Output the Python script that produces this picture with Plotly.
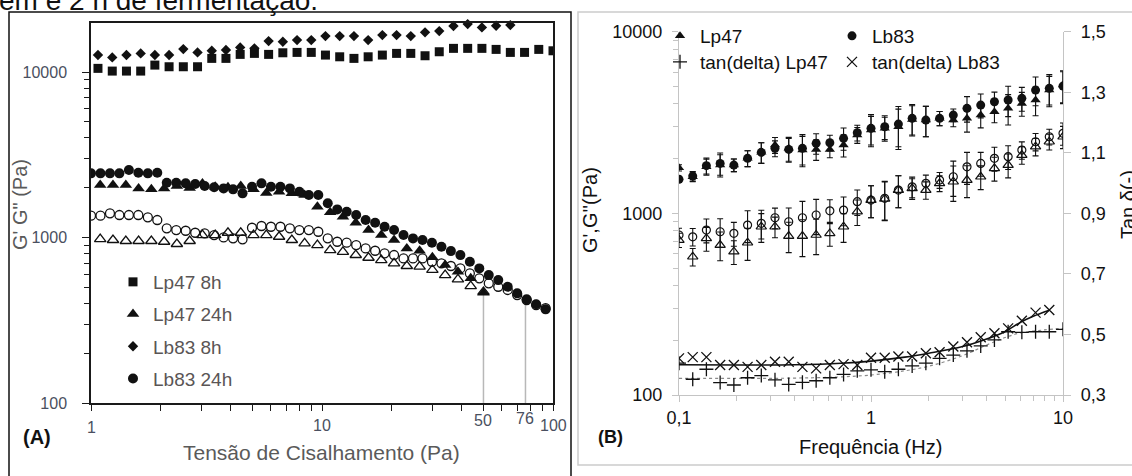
import math
import plotly.graph_objects as go

W, H = 1132, 476
FONT = "Liberation Sans, Arial, sans-serif"

# ---------------- Panel A data (shear stress sweep) ----------------
tau_8h = [1.072, 1.236, 1.424, 1.641, 1.890, 2.178, 2.510, 2.892, 3.333, 3.839,
          4.424, 5.098, 5.874, 6.768, 7.798, 8.986, 10.35, 11.93, 13.75, 15.84,
          18.25, 21.03, 24.23, 27.93, 32.18, 37.08, 42.72, 49.23, 56.72, 65.36,
          75.31, 86.78, 100.0]
lp47_8h = [10530, 10140, 10140, 10140, 11020, 10770, 10770, 10770, 12100, 12100,
           12790, 12970, 12790, 13080, 13150, 13150, 12670, 12370, 12100, 12370,
           12670, 12970, 12970, 12550, 13270, 13910, 13910, 13910, 13710, 13150,
           13150, 13710, 13450]
tau_lb83_8h = tau_8h[:30]
lb83_8h = [12670, 12270, 12670, 12970, 12670, 12670, 13770, 13150, 13450, 13590,
           14100, 13910, 15390, 15240, 15600, 15600, 16500, 16500, 16500, 15600,
           16730, 16730, 16500, 17380, 17690, 18970, 19500, 18620, 19050, 19230]

tau_lb83_24h = [1.000, 1.099, 1.208, 1.327, 1.459, 1.603, 1.762, 1.936, 2.128, 2.339,
                2.570, 2.825, 3.105, 3.412, 3.750, 4.121, 4.529, 4.977, 5.470, 6.012,
                6.607, 7.261, 7.980, 8.770, 9.638, 10.59, 11.64, 12.79, 14.06, 15.45,
                16.98, 18.66, 20.51, 22.54, 24.77, 27.23, 29.92, 32.89, 36.14, 39.72,
                43.65, 47.97, 52.72, 57.94, 63.68, 69.98, 76.91, 84.53, 92.90]
lb83_24h_g1 = [2443, 2443, 2443, 2443, 2557, 2465, 2443, 2465, 2143, 2143,
               2126, 2106, 2047, 2011, 1982, 1955, 1849, 2028, 2126, 2028,
               2028, 1982, 1893, 1806, 1806, 1611, 1479, 1432, 1367, 1275,
               1228, 1161, 1110, 1035, 988, 966, 931, 880, 828, 783,
               714, 651, 593, 553, 504, 460, 423, 395, 368]
lb83_24h_g2 = [1355, 1355, 1400, 1368, 1368, 1368, 1325, 1276, 1137, 1110,
               1099, 1069, 1060, 1035, 1002, 989, 975, 1146, 1174, 1162,
               1162, 1137, 1110, 1110, 1084, 989, 943, 931, 901, 860,
               832, 803, 784, 748, 748, 748, 714, 698, 673, 651,
               608, 567, 529, 504, 482, 449, 419, 391, 374]

tau_lp47_24h = [1.096, 1.245, 1.415, 1.607, 1.825, 2.073, 2.354, 2.674, 3.037, 3.449,
                3.917, 4.449, 5.053, 5.740, 6.519, 7.404, 8.410, 9.552, 10.85, 12.32,
                14.00, 15.90, 18.06, 20.51, 23.29, 26.46, 30.05, 34.13, 38.77, 44.03,
                50.00]
lp47_24h_g1 = [2075, 2075, 2075, 1980, 1960, 1980, 2047, 1990, 2120, 2030,
               2010, 2047, 1960, 1857, 1891, 1850, 1806, 1535, 1420, 1336,
               1228, 1110, 1035, 966, 860, 832, 759, 682, 621, 567, 464]
lp47_24h_g2 = [979, 966, 953, 953, 953, 943, 914, 953, 1035, 1035,
               1069, 1069, 1035, 1035, 1011, 966, 922, 901, 840, 820,
               784, 755, 731, 698, 673, 667, 637, 593, 559, 509, 469]

yield_tau = [50, 76]
yield_g = [464, 423]
yield_base = 100

tickA_vals = [1, 10, 50, 76, 100]
tickA_text = ["1", "10", "50", "76", "100"]

# ---------------- Panel B data (frequency sweep) ----------------
freq = [0.1, 0.1179, 0.1389, 0.1638, 0.1931, 0.2276, 0.2683, 0.3162, 0.3728, 0.4394,
        0.5179, 0.6105, 0.7197, 0.8483, 1.0, 1.179, 1.389, 1.638, 1.931, 2.276,
        2.683, 3.162, 3.728, 4.394, 5.179, 6.105, 7.197, 8.483, 10.0]
lp47_g1 = [1782, 1590, 1804, 1844, 1844, 2009, 2167, 2376, 2279, 2230,
           2250, 2250, 2376, 2697, 2872, 2938, 2998, 3289, 3261, 3334,
           3261, 3334, 3476, 3624, 3784, 4029, 4205, 4772, 5082]
lb83_g1 = [1539, 1604, 1830, 1884, 1844, 2009, 2167, 2279, 2250, 2279,
           2429, 2447, 2588, 2778, 2938, 2998, 3100, 3334, 3261, 3334,
           3476, 3784, 3945, 4115, 4205, 4295, 4772, 4878, 5020]
lp47_g2 = [713, 577, 728, 669, 615, 689, 844, 844, 750, 750,
           760, 776, 844, 1021, 1183, 1200, 1343, 1373, 1343, 1463,
           1493, 1525, 1590, 1770, 1844, 2094, 2327, 2479, 2641]
lb83_g2 = [760, 743, 809, 792, 776, 862, 881, 946, 899, 946,
           979, 1033, 1042, 1159, 1183, 1210, 1343, 1400, 1463, 1525,
           1590, 1804, 1884, 2009, 2050, 2230, 2479, 2641, 2756]
err_rel_g1 = [0.04, 0.06, 0.10, 0.14, 0.08, 0.10, 0.13, 0.10, 0.15, 0.19,
              0.13, 0.10, 0.14, 0.10, 0.19, 0.15, 0.25, 0.19, 0.19, 0.09,
              0.08, 0.16, 0.15, 0.13, 0.19, 0.15, 0.18, 0.19, 0.20]
err_rel_g2 = [0.09, 0.11, 0.15, 0.18, 0.15, 0.20, 0.18, 0.13, 0.19, 0.23,
              0.22, 0.15, 0.18, 0.16, 0.20, 0.24, 0.20, 0.13, 0.11, 0.10,
              0.22, 0.20, 0.15, 0.15, 0.15, 0.11, 0.11, 0.10, 0.14]
tan_lp47 = [0.405, 0.352, 0.385, 0.341, 0.333, 0.357, 0.364, 0.350, 0.335, 0.342,
            0.347, 0.357, 0.368, 0.380, 0.383, 0.377, 0.385, 0.396, 0.405, 0.421,
            0.432, 0.446, 0.462, 0.482, 0.509, 0.507, 0.509, 0.509, 0.517]
freq_lb83_tan = freq[:28]
tan_lb83 = [0.421, 0.425, 0.425, 0.399, 0.399, 0.393, 0.399, 0.410, 0.410, 0.393,
            0.388, 0.399, 0.402, 0.399, 0.423, 0.423, 0.427, 0.427, 0.438, 0.441,
            0.460, 0.474, 0.491, 0.504, 0.520, 0.545, 0.572, 0.581]
trend_f_lp47 = [0.1, 0.3, 0.5, 0.7, 1, 1.5, 2, 3, 4, 5, 6, 8, 10]
trend_lp47 = [0.355, 0.355, 0.357, 0.360, 0.366, 0.380, 0.395, 0.430, 0.465, 0.490, 0.505, 0.515, 0.520]
trend_f_lb83 = [0.1, 0.2, 0.4, 0.7, 1, 1.5, 2, 3, 4, 5, 6, 7, 8.483]
trend_lb83 = [0.400, 0.399, 0.400, 0.405, 0.412, 0.425, 0.438, 0.460, 0.485, 0.510, 0.540, 0.560, 0.580]

tickB_y2 = [100, 1000, 10000]
tickB_y3 = [0.3, 0.5, 0.7, 0.9, 1.1, 1.3, 1.5]


def px(x):
    return x / W


def py(y):
    return 1 - y / H


BLACK = "#111111"
fig = go.Figure()

# ---------- Panel A traces ----------
for xv, gv in zip(yield_tau, yield_g):
    fig.add_trace(go.Scatter(x=[xv, xv], y=[yield_base, gv], mode="lines",
                             line=dict(color="#b8b8b8", width=1.5),
                             showlegend=False, hoverinfo="skip", xaxis="x", yaxis="y",
                             cliponaxis=False))

fig.add_trace(go.Scatter(x=tau_lp47_24h, y=lp47_24h_g2, mode="markers", showlegend=False,
                         marker=dict(symbol="triangle-up-open", size=10, color=BLACK, line=dict(width=1.3)),
                         xaxis="x", yaxis="y"))
fig.add_trace(go.Scatter(x=tau_lb83_24h, y=lb83_24h_g2, mode="markers", showlegend=False,
                         marker=dict(symbol="circle-open", size=9, color=BLACK, line=dict(width=1.3)),
                         xaxis="x", yaxis="y"))
fig.add_trace(go.Scatter(x=tau_8h, y=lp47_8h, mode="markers", name="Lp47 8h",
                         legend="legend", legendgroup="a1", legendrank=1,
                         marker=dict(symbol="square", size=9, color=BLACK),
                         xaxis="x", yaxis="y"))
fig.add_trace(go.Scatter(x=tau_lp47_24h, y=lp47_24h_g1, mode="markers", name="Lp47 24h",
                         legend="legend", legendgroup="a2", legendrank=2,
                         marker=dict(symbol="triangle-up", size=11, color=BLACK),
                         xaxis="x", yaxis="y"))
fig.add_trace(go.Scatter(x=tau_lb83_8h, y=lb83_8h, mode="markers", name="Lb83 8h",
                         legend="legend", legendgroup="a3", legendrank=3,
                         marker=dict(symbol="diamond", size=8, color=BLACK),
                         xaxis="x", yaxis="y", cliponaxis=False))
fig.add_trace(go.Scatter(x=tau_lb83_24h, y=lb83_24h_g1, mode="markers", name="Lb83 24h",
                         legend="legend", legendgroup="a4", legendrank=4,
                         marker=dict(symbol="circle", size=10, color=BLACK),
                         xaxis="x", yaxis="y"))

# ---------- Panel B traces ----------
def errs(vals, rel):
    return [v * r for v, r in zip(vals, rel)]

EB = dict(type="data", color=BLACK, thickness=1.1, width=3, visible=True)

fig.add_trace(go.Scatter(x=freq, y=lp47_g2, mode="markers", showlegend=False,
                         error_y=dict(EB, array=errs(lp47_g2, err_rel_g2)),
                         marker=dict(symbol="triangle-up-open", size=9, color=BLACK, line=dict(width=1.2)),
                         xaxis="x2", yaxis="y2"))
fig.add_trace(go.Scatter(x=freq, y=lb83_g2, mode="markers", showlegend=False,
                         error_y=dict(EB, array=errs(lb83_g2, err_rel_g2)),
                         marker=dict(symbol="circle-open", size=8, color=BLACK, line=dict(width=1.2)),
                         xaxis="x2", yaxis="y2"))
fig.add_trace(go.Scatter(x=freq, y=lp47_g1, mode="markers", name="Lp47",
                         legend="legend2", legendrank=1,
                         error_y=dict(EB, array=errs(lp47_g1, err_rel_g1)),
                         marker=dict(symbol="triangle-up", size=9, color=BLACK),
                         xaxis="x2", yaxis="y2"))
fig.add_trace(go.Scatter(x=freq, y=lb83_g1, mode="markers", name="Lb83",
                         legend="legend2", legendrank=2,
                         error_y=dict(EB, array=errs(lb83_g1, err_rel_g1)),
                         marker=dict(symbol="circle", size=9, color=BLACK),
                         xaxis="x2", yaxis="y2"))

fig.add_trace(go.Scatter(x=trend_f_lp47, y=trend_lp47, mode="lines", showlegend=False,
                         line=dict(color="#8a8a8a", width=1.2, dash="dot", shape="spline"),
                         xaxis="x2", yaxis="y3"))
fig.add_trace(go.Scatter(x=trend_f_lb83, y=trend_lb83, mode="lines", showlegend=False,
                         line=dict(color=BLACK, width=1.6, shape="spline"),
                         xaxis="x2", yaxis="y3"))
fig.add_trace(go.Scatter(x=freq, y=tan_lp47, mode="markers", name="tan(delta) Lp47",
                         legend="legend3", legendrank=1,
                         marker=dict(symbol="cross-thin-open", size=10, color=BLACK, line=dict(width=1.3)),
                         xaxis="x2", yaxis="y3"))
fig.add_trace(go.Scatter(x=freq_lb83_tan, y=tan_lb83, mode="markers", name="tan(delta) Lb83",
                         legend="legend3", legendrank=2,
                         marker=dict(symbol="x-thin-open", size=10, color=BLACK, line=dict(width=1.3)),
                         xaxis="x2", yaxis="y3"))

# ---------- axes ----------
A_COL = "#1a1a1a"
A_TXT = "#4a5060"
B_LINE = "#c4c4c4"

minorA_x = [2, 3, 4, 5, 6, 7, 8, 9, 20, 30, 40, 50, 60, 70, 80, 90]
minorA_y = [200, 300, 400, 500, 600, 700, 800, 900, 2000, 3000, 4000, 5000, 6000, 7000, 8000, 9000]
minorB_x = [0.2, 0.3, 0.4, 0.5, 0.6, 0.7, 0.8, 0.9, 2, 3, 4, 5, 6, 7, 8, 9]

fig.update_layout(
    template="none",
    width=W, height=H,
    margin=dict(l=0, r=0, t=0, b=0, autoexpand=False),
    paper_bgcolor="white", plot_bgcolor="rgba(0,0,0,0)",
    font=dict(family=FONT, color=BLACK),
    xaxis=dict(domain=[px(91), px(553)], anchor="y", type="log", range=[0, 2], automargin=False,
               showline=True, linecolor=A_COL, linewidth=1.5, mirror=True,
               ticks="outside", ticklen=6, tickwidth=1.2, tickcolor=A_COL,
               tickvals=[1, 10, 100], showticklabels=False,
               minor=dict(ticks="outside", ticklen=6, tickwidth=1.2, tickcolor=A_COL, tickvals=minorA_x),
               showgrid=False, zeroline=False),
    yaxis=dict(domain=[py(403), py(23)], anchor="x", type="log", range=[2, 4.2966], automargin=False,
               showline=True, linecolor=A_COL, linewidth=1.5, mirror=True,
               ticks="outside", ticklen=7, tickwidth=1.2, tickcolor=A_COL,
               tickvals=[100, 1000, 10000], ticktext=["100", "1000", "10000"],
               tickfont=dict(size=16, color=A_TXT), ticklabelstandoff=12,
               minor=dict(ticks="outside", ticklen=5, tickwidth=1.2, tickcolor=A_COL, tickvals=minorA_y),
               showgrid=False, zeroline=False),
    xaxis2=dict(domain=[px(679), px(1063)], anchor="y2", type="log", range=[-1, 1], automargin=False,
                showline=True, linecolor=B_LINE, linewidth=1.3,
                ticks="outside", ticklen=6, tickcolor=B_LINE,
                tickvals=[0.1, 1, 10], ticktext=["0,1", "1", "10"],
                tickfont=dict(size=18, color=BLACK), ticklabelstandoff=0,
                minor=dict(ticks="outside", ticklen=5, tickcolor=B_LINE, tickvals=minorB_x),
                showgrid=False, zeroline=False),
    yaxis2=dict(domain=[py(395), py(31.7)], anchor="x2", type="log", range=[2, 4], automargin=False,
                showline=True, linecolor=B_LINE, linewidth=1.3,
                ticks="outside", ticklen=6, tickcolor=B_LINE,
                tickvals=tickB_y2, ticktext=["100", "1000", "10000"],
                tickfont=dict(size=18, color=BLACK), ticklabelstandoff=6,
                minor=dict(ticks="outside", ticklen=5, tickcolor=B_LINE, tickvals=minorA_y),
                showgrid=False, zeroline=False),
    yaxis3=dict(overlaying="y2", anchor="x2", side="right", range=[0.3, 1.5], automargin=False,
                showline=True, linecolor=B_LINE, linewidth=1.3,
                ticks="outside", ticklen=7, tickcolor=B_LINE,
                tickvals=tickB_y3, ticktext=[f"{v:.1f}".replace(".", ",") for v in tickB_y3],
                tickfont=dict(size=18, color=BLACK), ticklabelstandoff=6,
                showgrid=False, zeroline=False),
    legend=dict(x=px(113), y=py(263), xanchor="left", yanchor="top",
                bgcolor="rgba(0,0,0,0)", font=dict(size=19, color="#5a5555", family=FONT),
                tracegroupgap=4.5, traceorder="grouped", itemclick=False),
    legend2=dict(orientation="h", x=px(660), y=py(17), xanchor="left", yanchor="top",
                 bgcolor="rgba(0,0,0,0)", font=dict(size=19, color=BLACK, family=FONT),
                 entrywidth=127, entrywidthmode="pixels"),
    legend3=dict(orientation="h", x=px(660), y=py(43), xanchor="left", yanchor="top",
                 bgcolor="rgba(0,0,0,0)", font=dict(size=19, color=BLACK, family=FONT),
                 entrywidth=127, entrywidthmode="pixels"),
    showlegend=True,
)

# ---------- frames ----------
fig.add_shape(type="rect", xref="paper", yref="paper",
              x0=px(9), x1=px(571), y0=py(480), y1=py(12),
              line=dict(color="#111111", width=1.5), layer="below")
fig.add_shape(type="rect", xref="paper", yref="paper",
              x0=px(578), x1=px(1140), y0=py(465), y1=py(12),
              line=dict(color="#cccccc", width=1.5), layer="below")

# ---------- text ----------
ann = []
ann.append(dict(text="em e 2 h de fermentação.", x=px(-3), y=py(0), xanchor="left", yanchor="middle",
                font=dict(size=28, color=BLACK)))
tick_ypx = [427, 425, 420, 418, 425]
for v, t, yy in zip(tickA_vals, tickA_text, tick_ypx):
    ann.append(dict(text=t, xref="x", x=math.log10(v), y=py(yy), yanchor="middle",
                    font=dict(size=16, color=A_TXT)))
ann.append(dict(text="Tensão de Cisalhamento (Pa)", x=px(321), y=py(452), yanchor="middle",
                font=dict(size=21, color="#5a5a5a")))
ann.append(dict(text="G' G\" (Pa)", x=px(20), y=py(205), textangle=-90, yanchor="middle",
                font=dict(size=20, color="#5a5a5a")))
ann.append(dict(text="<b>(A)</b>", x=px(37), y=py(437), yanchor="middle",
                font=dict(size=20, color=BLACK)))
ann.append(dict(text="<b>(B)</b>", x=px(610), y=py(437), yanchor="middle",
                font=dict(size=18, color=BLACK)))
ann.append(dict(text="Frequência (Hz)", x=px(870), y=py(447), yanchor="middle",
                font=dict(size=20, color=BLACK)))
ann.append(dict(text="G',G''(Pa)", x=px(590), y=py(210), textangle=-90, yanchor="middle",
                font=dict(size=20, color=BLACK)))
ann.append(dict(text="Tan δ(-)", x=px(1128), y=py(205), textangle=-90, yanchor="middle",
                font=dict(size=20, color=BLACK)))
for a in ann:
    a.setdefault("xref", "paper")
    a.setdefault("yref", "paper")
    a.setdefault("showarrow", False)
    a.setdefault("xanchor", "center")
fig.update_layout(annotations=ann)

fig.write_html("out.html",
               config={"displayModeBar": False, "staticPlot": False},
               post_script="document.body.style.margin='0px';document.body.style.overflow='hidden';")
